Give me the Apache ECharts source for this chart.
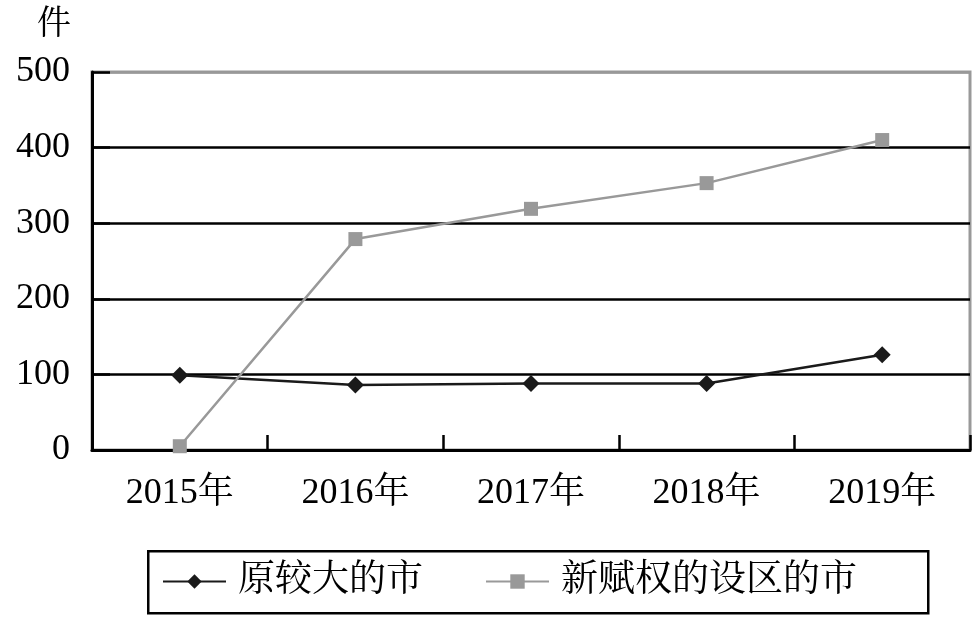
<!DOCTYPE html>
<html>
<head>
<meta charset="utf-8">
<script src="https://cdn.jsdelivr.net/npm/echarts@6/dist/echarts.min.js"></script>
<style>html,body{margin:0;padding:0;background:#fff;}#c{width:979px;height:623px;}</style>
</head>
<body>
<div id="c"></div>
<script>
var categories = ['2015年', '2016年', '2017年', '2018年', '2019年'];
var seriesNames = ['原较大的市', '新赋权的设区的市'];
var valuesOld = [99, 86, 88, 88, 126];
var valuesNew = [5, 279, 319, 353, 410];
var yUnit = '件';

var serif = "'Times New Roman','Liberation Serif','Noto Serif CJK SC','Noto Sans CJK SC',serif";
var chart = echarts.init(document.getElementById('c'), null, {renderer: 'canvas'});
chart.setOption({
  animation: false,
  backgroundColor: '#fff',
  graphic: [{
    type: 'text', left: 37, top: 8,
    style: {text: yUnit, font: "34px " + serif, fill: '#000'}
  }, {
    type: 'rect', left: 147, top: 550, z: -1,
    shape: {x: 0, y: 0, width: 780, height: 62},
    style: {fill: 'transparent', stroke: '#000', lineWidth: 2.5}
  }],
  grid: {left: 92, right: 9, top: 72, bottom: 173, show: true, borderColor: '#999', borderWidth: 3, backgroundColor: 'transparent'},
  legend: {
    left: 162, top: 563,
    padding: 0,
    itemWidth: 63, itemHeight: 18, itemGap: 62,
    textStyle: {fontFamily: serif, fontSize: 37, color: '#000', padding: [0, 0, 0, 7]},
    data: seriesNames
  },
  xAxis: {
    type: 'category', data: categories, boundaryGap: true,
    axisLine: {lineStyle: {color: '#000', width: 3}},
    axisTick: {show: true, inside: true, length: 15, interval: 0, lineStyle: {color: '#000', width: 2.5}},
    axisLabel: {margin: 26, fontFamily: serif, fontSize: 36, color: '#000'}
  },
  yAxis: {
    type: 'value', min: 0, max: 500, interval: 100,
    axisLine: {show: true, lineStyle: {color: '#000', width: 3}},
    axisTick: {show: true, inside: true, length: 18, lineStyle: {color: '#000', width: 2.5}},
    axisLabel: {margin: 22, fontFamily: serif, fontSize: 36, color: '#000'},
    splitLine: {show: true, lineStyle: {color: ['#000', '#000', '#000', '#000', '#000', '#999'], width: 2.5}}
  },
  series: [{
    name: seriesNames[0], type: 'line', data: valuesOld,
    symbol: 'diamond', symbolSize: 17,
    lineStyle: {color: '#1a1a1a', width: 2.5},
    itemStyle: {color: '#1a1a1a'}
  }, {
    name: seriesNames[1], type: 'line', data: valuesNew,
    symbol: 'rect', symbolSize: 14,
    lineStyle: {color: '#999', width: 2.5},
    itemStyle: {color: '#999'}
  }]
});
</script>
</body>
</html>
